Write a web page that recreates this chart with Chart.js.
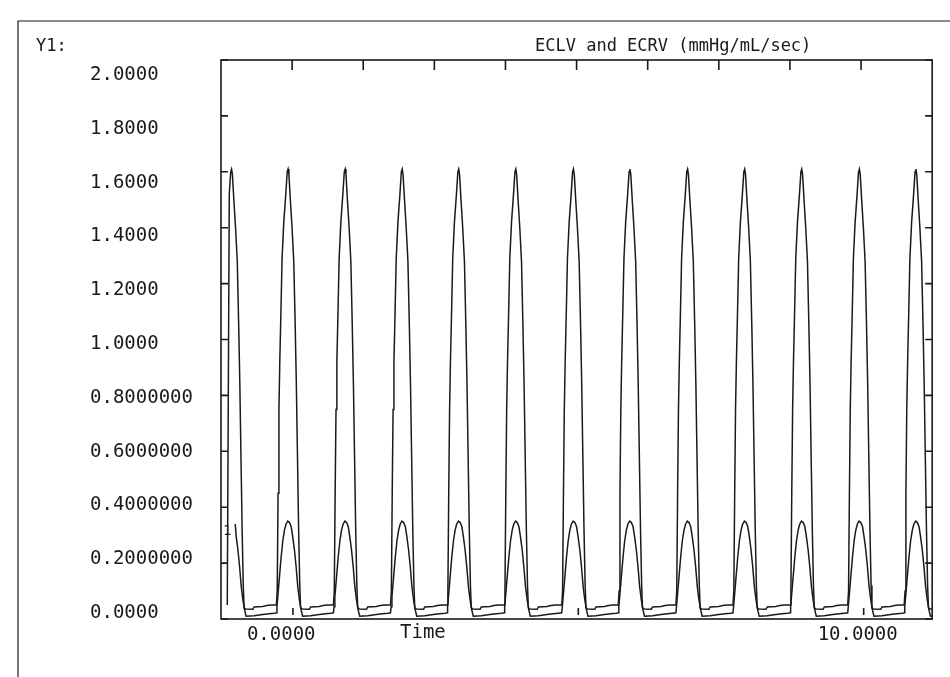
<!DOCTYPE html>
<html>
<head>
<meta charset="utf-8">
<title>ECLV and ECRV</title>
<script src="https://cdn.jsdelivr.net/npm/chart.js@4.4.0/dist/chart.umd.min.js"></script>
<style>
  html, body { margin: 0; padding: 0; background: #fff; }
  canvas { display: block; }
</style>
</head>
<body>
<canvas id="elastanceChart" width="950" height="677"></canvas>
<script>
// peak time of every beat (sec)
const beatTimes = [-1.08, -0.09, 0.91, 1.91, 2.90, 3.90, 4.91, 5.90, 6.91, 7.91, 8.91, 9.92, 10.91];

// one beat of each curve: [time from peak, value]
const eclvBeat = [
  [-0.20, 0.05], [-0.185, 0.10], [-0.17, 0.45], [-0.155, 0.75], [-0.14, 0.92],
  [-0.12, 1.10], [-0.10, 1.29], [-0.07, 1.42], [-0.035, 1.52], [-0.01, 1.60],
  [0.005, 1.61], [0.02, 1.59], [0.045, 1.50], [0.075, 1.40], [0.105, 1.28],
  [0.13, 1.05], [0.15, 0.84], [0.17, 0.58], [0.19, 0.32], [0.21, 0.12],
  [0.225, 0.04], [0.25, 0.036], [0.38, 0.035], [0.40, 0.043], [0.55, 0.045],
  [0.62, 0.048], [0.70, 0.05], [0.76, 0.05]
];
const ecrvBeat = [
  [-0.20, 0.022], [-0.19, 0.044], [-0.175, 0.08], [-0.146, 0.15], [-0.117, 0.22],
  [-0.087, 0.28], [-0.058, 0.318], [-0.03, 0.34], [0, 0.35], [0.03, 0.345],
  [0.06, 0.33], [0.087, 0.294], [0.117, 0.247], [0.146, 0.187], [0.175, 0.116],
  [0.204, 0.068], [0.234, 0.032], [0.26, 0.01], [0.40, 0.012], [0.55, 0.016],
  [0.70, 0.02], [0.76, 0.021]
];

// where each trace starts at the left edge [time, value]
const eclvStart = [-1.15, 0.05];
const ecrvStart = [-1.01, 0.34];

const yTickValues = [0, 0.2, 0.4, 0.6, 0.8, 1.0, 1.2, 1.4, 1.6, 1.8, 2.0];
const yTickLabels = ["0.0000", "0.2000000", "0.4000000", "0.6000000", "0.8000000",
  "1.0000", "1.2000", "1.4000", "1.6000", "1.8000", "2.0000"];
const xTickValues = [0, 10];
const xTickLabels = ["0.0000", "10.0000"];
const xMarkValues = [0, 5, 10];

const plotFont = '"DejaVu Sans Mono", monospace';
const ink = "#1a1a1a";

function buildTrace(beat, start) {
  const pts = [{ x: start[0], y: start[1] }];
  beatTimes.forEach(tp => {
    beat.forEach(([dt, v]) => {
      const t = +(tp + dt).toFixed(3);
      if (t > start[0]) pts.push({ x: t, y: v });
    });
  });
  return pts;
}

// frame, inward ticks and the loose text of the plotter page
const plotterFrame = {
  id: "plotterFrame",
  afterDraw(chart) {
    const { ctx, chartArea: a, scales } = chart;
    ctx.save();
    ctx.strokeStyle = ink;
    ctx.lineWidth = 1.6;
    ctx.strokeRect(a.left, a.top, a.width, a.height);

    ctx.beginPath();
    scales.y.ticks.forEach(t => {
      const py = scales.y.getPixelForValue(t.value);
      ctx.moveTo(a.left, py); ctx.lineTo(a.left + 7, py);
      ctx.moveTo(a.right, py); ctx.lineTo(a.right - 7, py);
    });
    for (let i = 1; i < 10; i++) {
      const px = a.left + i * a.width / 10;
      ctx.moveTo(px, a.top); ctx.lineTo(px, a.top + 10);
    }
    xMarkValues.forEach(v => {
      const px = scales.x.getPixelForValue(v);
      ctx.moveTo(px, a.bottom - 4); ctx.lineTo(px, a.bottom - 11);
    });
    ctx.stroke();

    // page border
    ctx.lineWidth = 1.2;
    ctx.beginPath();
    ctx.moveTo(18, 677); ctx.lineTo(18, 21); ctx.lineTo(950, 21);
    ctx.stroke();

    ctx.fillStyle = ink;
    ctx.textBaseline = "middle";
    ctx.font = "17px " + plotFont;
    ctx.fillText("Y1:", 36, 47);
    ctx.fillText("ECLV and ECRV (mmHg/mL/sec)", 535, 47);
    ctx.font = "19px " + plotFont;
    ctx.fillText("Time", 400, 633);
    ctx.font = "14px " + plotFont;
    ctx.fillText("1", 223, 531);
    ctx.restore();
  }
};

const ctx = document.getElementById("elastanceChart").getContext("2d");
new Chart(ctx, {
  type: "line",
  data: {
    datasets: [
      {
        label: "ECLV",
        data: buildTrace(eclvBeat, eclvStart),
        borderColor: ink,
        borderWidth: 1.5,
        pointRadius: 0,
        tension: 0,
      },
      {
        label: "ECRV",
        data: buildTrace(ecrvBeat, ecrvStart),
        borderColor: ink,
        borderWidth: 1.5,
        pointRadius: 0,
        tension: 0,
      },
    ],
  },
  options: {
    responsive: false,
    animation: false,
    layout: { padding: { left: 90, right: 13, top: 60, bottom: 0 } },
    plugins: {
      legend: { display: false },
      tooltip: { enabled: false },
    },
    scales: {
      x: {
        type: "linear",
        min: -1.26,
        max: 11.2,
        grid: { display: false, drawTicks: false },
        border: { display: false },
        afterBuildTicks: scale => {
          scale.ticks = xTickValues.map(v => ({ value: v }));
        },
        afterFit: scale => { scale.height = 58; },
        ticks: {
          align: "start",
          labelOffset: -46,
          padding: 5,
          maxRotation: 0,
          color: ink,
          font: { family: plotFont, size: 19 },
          callback: (value, index) => xTickLabels[index],
        },
      },
      // value axis of the traces; its labels are printed by yLabels
      y: {
        min: 0,
        max: 2,
        grid: { display: false, drawTicks: false },
        border: { display: false },
        afterBuildTicks: scale => {
          scale.ticks = yTickValues.map(v => ({ value: v }));
        },
        afterFit: scale => { scale.width = 0; },
        ticks: { display: false },
      },
      // the plotter prints its labels on a slightly tighter pitch than the ticks
      yLabels: {
        position: "left",
        min: -0.0223,
        max: 2.0557,
        grid: { display: false, drawTicks: false },
        border: { display: false },
        afterBuildTicks: scale => {
          scale.ticks = yTickValues.map(v => ({ value: v }));
        },
        afterFit: scale => { scale.width = 131; },
        ticks: {
          crossAlign: "far",
          color: ink,
          font: { family: plotFont, size: 19 },
          callback: (value, index) => yTickLabels[index],
        },
      },
    },
  },
  plugins: [plotterFrame],
});
</script>
</body>
</html>
